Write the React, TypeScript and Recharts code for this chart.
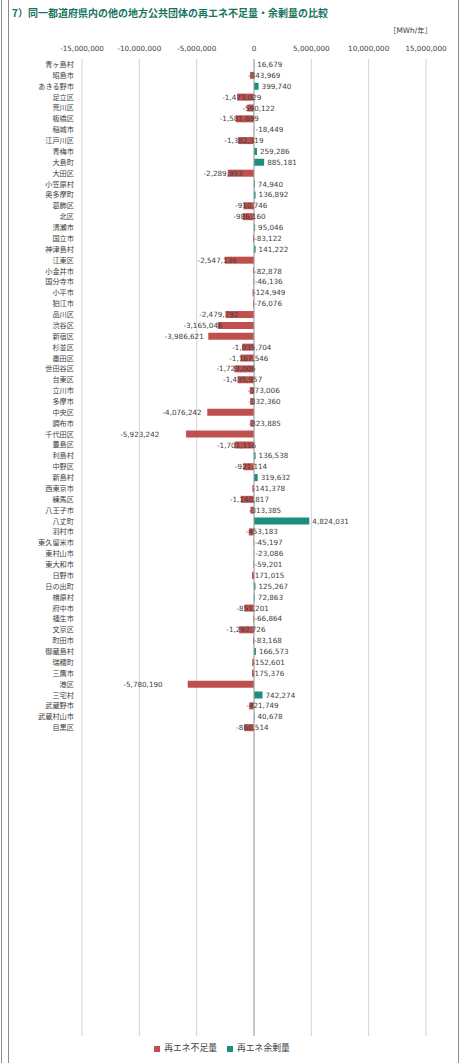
import { BarChart, Bar, XAxis, YAxis, CartesianGrid, ReferenceLine, Legend, LabelList } from "recharts"

const cities = [
  "青ヶ島村", "昭島市", "あきる野市", "足立区", "荒川区", "板橋区", "稲城市", "江戸川区", "青梅市", "大島町",
  "大田区", "小笠原村", "奥多摩町", "葛飾区", "北区", "清瀬市", "国立市", "神津島村", "江東区", "小金井市",
  "国分寺市", "小平市", "狛江市", "品川区", "渋谷区", "新宿区", "杉並区", "墨田区", "世田谷区", "台東区",
  "立川市", "多摩市", "中央区", "調布市", "千代田区", "豊島区", "利島村", "中野区", "新島村", "西東京市",
  "練馬区", "八王子市", "八丈町", "羽村市", "東久留米市", "東村山市", "東大和市", "日野市", "日の出町", "檜原村",
  "府中市", "福生市", "文京区", "町田市", "御蔵島村", "瑞穂町", "三鷹市", "港区", "三宅村", "武蔵野市",
  "武蔵村山市", "目黒区",
]

// MWh/年, 負 = 再エネ不足量, 正 = 再エネ余剰量
const balances = [
  16679, -343969, 399740, -1473029, -590122, -1581699, -18449, -1382319, 259286, 885181,
  -2289953, 74940, 136892, -910746, -986160, 95046, -83122, 141222, -2547136, -82878,
  -46136, -124949, -76076, -2479792, -3165046, -3986621, -1035704, -1167546, -1723006, -1435957,
  -373006, -332360, -4076242, -323885, -5923242, -1701116, 136538, -921114, 319632, -141378,
  -1140817, -313385, 4824031, -453183, -45197, -23086, -59201, -171015, 125267, 72863,
  -851201, -66864, -1292726, -83168, 166573, -152601, -175376, -5780190, 742274, -421749,
  40678, -860514,
]

const xTicks = [-15000000, -10000000, -5000000, 0, 5000000, 10000000, 15000000]

const rows = cities.map((name, i) => ({
  name,
  deficit: balances[i] < 0 ? balances[i] : null,
  surplus: balances[i] > 0 ? balances[i] : null,
}))

const FONT = "'DejaVu Sans', 'Noto Sans CJK JP', sans-serif"
const TEXT = "#404040"

const ValueLabel = (props: any) => {
  const box = props.viewBox ?? props
  const value = props.value
  if (value == null || value === 0) return null
  const a = Number(box.x)
  const b = a + Number(box.width)
  const lo = Math.min(a, b)
  const hi = Math.max(a, b)
  // Excel-style placement: negatives start left of the bar by its own length
  const tx = value < 0 ? 2 * lo - hi + 2 : hi + 3
  const ty = Number(box.y) + Number(box.height) / 2
  return (
    <text x={tx} y={ty} dy="0.35em" fontSize={7.2} fill={TEXT} fontFamily={FONT}>
      {Number(value).toLocaleString("en-US")}
    </text>
  )
}

export default function App() {
  return (
    <div style={{ position: "absolute", left: 0, top: 0, width: 467, height: 1063, background: "#fff", overflow: "hidden" }}>
      <div style={{ position: "absolute", left: 1, top: 0, width: 1, height: 1063, background: "#8a8a8a" }} />
      <div style={{ position: "absolute", left: 8, top: -2, width: 449, height: 1070, borderLeft: "1px solid #8a8a8a", borderRight: "1px solid #8a8a8a" }} />
      <div
        style={{
          position: "absolute", left: 12, top: 5, fontSize: 10, fontWeight: "bold", color: "#17745f",
          fontFamily: "'Noto Sans CJK JP', sans-serif", whiteSpace: "nowrap", lineHeight: "16px",
        }}
      >
        7）同一都道府県内の他の地方公共団体の再エネ不足量・余剰量の比較
      </div>
      <div
        style={{
          position: "absolute", left: 389, top: 25, fontSize: 7.4, color: TEXT,
          fontFamily: FONT, whiteSpace: "nowrap", lineHeight: "12px",
        }}
      >
        ［MWh/年］
      </div>
      <div style={{ position: "absolute", left: 0, top: 0 }}>
        <BarChart
          width={467}
          height={1063}
          data={rows}
          layout="vertical"
          stackOffset="sign"
          barSize={7}
          margin={{ top: 39, right: 41, bottom: 14, left: 0 }}
        >
          <CartesianGrid horizontal={false} stroke="#d4d4d4" strokeWidth={1} />
          <XAxis
            type="number"
            orientation="top"
            domain={[-15000000, 15000000]}
            ticks={xTicks}
            height={20}
            axisLine={false}
            tickLine={false}
            interval={0}
            tick={{ fill: TEXT, fontSize: 7.2, fontFamily: FONT }}
            tickFormatter={(v: number) => v.toLocaleString("en-US")}
          />
          <YAxis
            type="category"
            dataKey="name"
            width={82}
            interval={0}
            axisLine={false}
            tickLine={false}
            padding={{ top: 0, bottom: 303 }}
            tick={{ fill: TEXT, fontSize: 7.2, fontFamily: FONT }}
          />
          <ReferenceLine x={0} stroke="#a6a6a6" strokeWidth={1} />
          <Bar dataKey="deficit" name="再エネ不足量" stackId="v" fill="#c0504d" isAnimationActive={false}>
            <LabelList dataKey="deficit" content={ValueLabel} />
          </Bar>
          <Bar dataKey="surplus" name="再エネ余剰量" stackId="v" fill="#1b8e7e" isAnimationActive={false}>
            <LabelList dataKey="surplus" content={ValueLabel} />
          </Bar>
          <Legend
            verticalAlign="bottom"
            align="center"
            iconType="square"
            iconSize={6}
            wrapperStyle={{ bottom: 9, left: 14, fontSize: 8.8, fontFamily: FONT }}
            formatter={(v: string) => <span style={{ color: TEXT }}>{v}</span>}
          />
        </BarChart>
      </div>
    </div>
  )
}
